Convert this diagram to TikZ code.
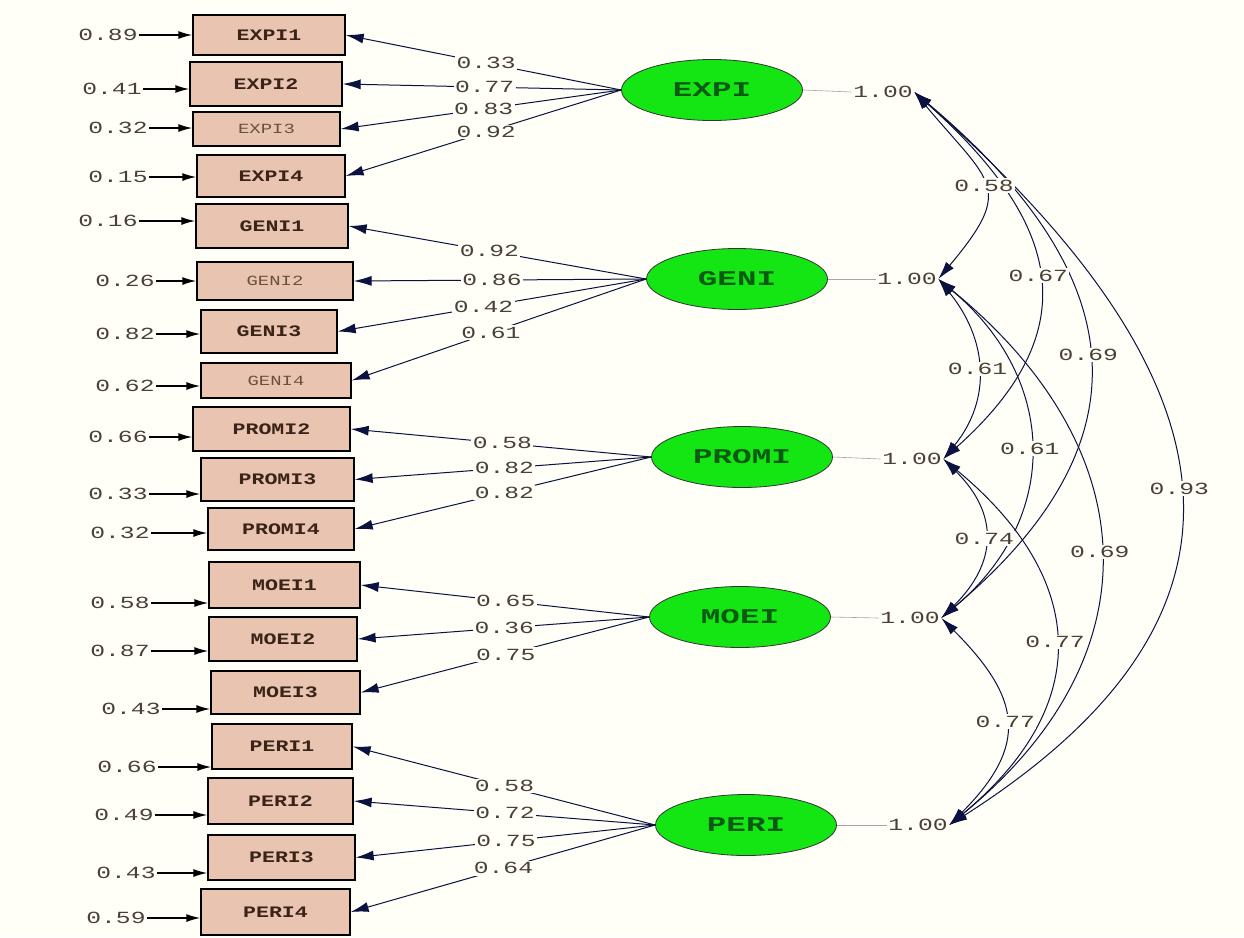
\documentclass[tikz,border=0pt]{standalone}
\usepackage{fontspec}
\usetikzlibrary{arrows.meta,shapes.geometric}
\newfontfamily\labfont[FakeStretch=1.45]{Liberation Mono}
\newfontfamily\boxfont[FakeStretch=1.35]{Liberation Mono}
\newfontfamily\latfont[FakeStretch=1.55]{Liberation Mono}
\definecolor{bg}{HTML}{FFFEF7}
\definecolor{boxfill}{HTML}{E9C4B0}
\definecolor{ellfill}{HTML}{14E614}
\definecolor{navy}{HTML}{0B1240}
\definecolor{labtxt}{HTML}{4A4038}
\definecolor{boxtxt}{HTML}{3A2418}
\definecolor{boxtxtl}{HTML}{6A5040}
\definecolor{lattxt}{HTML}{0A5A14}
\begin{document}
\begin{tikzpicture}[x=1pt,y=-1pt,
  obs/.style={draw=black, line width=1.3pt, fill=boxfill, inner sep=0pt,
    font=\boxfont\bfseries\fontsize{16}{16}\selectfont, text=boxtxt},
  obsl/.style={obs, font=\boxfont\fontsize{14}{14}\selectfont, text=boxtxtl},
  lat/.style={ellipse, draw=black!80, line width=0.8pt, fill=ellfill,
    minimum width=181pt, minimum height=61pt, inner sep=0pt,
    font=\latfont\bfseries\fontsize{21}{21}\selectfont, text=lattxt},
  lab/.style={fill=bg, inner sep=1.5pt, font=\labfont\fontsize{17}{17}\selectfont, text=labtxt},
  load/.style={-{Latex[length=18pt,width=10pt]}, navy, line width=1pt},
  err/.style={-{Latex[length=14pt,width=8pt]}, black, line width=1.5pt},
  cov/.style={{Latex[length=18pt,width=10pt]}-{Latex[length=18pt,width=10pt]}, navy, line width=1pt},
  varl/.style={gray!70, line width=0.6pt}]
\fill[bg] (0,0) rectangle (1244,937);
\useasboundingbox (0,0) rectangle (1244,937);

% observed
\node[obs, minimum width=152pt, minimum height=40pt] (b1) at (269,35) {EXPI1};
\node[obs, minimum width=152pt, minimum height=44pt] (b2) at (266,84) {EXPI2};
\node[obsl, minimum width=147pt, minimum height=34pt] (b3) at (266.5,129) {EXPI3};
\node[obs, minimum width=148pt, minimum height=42pt] (b4) at (271,176) {EXPI4};
\node[obs, minimum width=152pt, minimum height=44pt] (b5) at (272,226) {GENI1};
\node[obsl, minimum width=156pt, minimum height=38pt] (b6) at (275,281) {GENI2};
\node[obs, minimum width=136pt, minimum height=43pt] (b7) at (269,331.5) {GENI3};
\node[obsl, minimum width=150pt, minimum height=35pt] (b8) at (276,380.5) {GENI4};
\node[obs, minimum width=157pt, minimum height=44pt] (b9) at (271.5,429) {PROMI2};
\node[obs, minimum width=153pt, minimum height=43pt] (b10) at (277.5,479.5) {PROMI3};
\node[obs, minimum width=146pt, minimum height=42pt] (b11) at (281,529) {PROMI4};
\node[obs, minimum width=151pt, minimum height=46pt] (b12) at (284.5,585) {MOEI1};
\node[obs, minimum width=148pt, minimum height=44pt] (b13) at (283,639) {MOEI2};
\node[obs, minimum width=149pt, minimum height=43pt] (b14) at (285.5,692.5) {MOEI3};
\node[obs, minimum width=140pt, minimum height=45pt] (b15) at (282,746.5) {PERI1};
\node[obs, minimum width=145pt, minimum height=46pt] (b16) at (280.5,801) {PERI2};
\node[obs, minimum width=147pt, minimum height=45pt] (b17) at (281.5,857.5) {PERI3};
\node[obs, minimum width=149pt, minimum height=46pt] (b18) at (275.5,912) {PERI4};

% latent
\node[lat] (L1) at (712,90) {EXPI};
\node[lat] (L2) at (737,279) {GENI};
\node[lat] (L3) at (742,457) {PROMI};
\node[lat] (L4) at (740,617) {MOEI};
\node[lat] (L5) at (746,825) {PERI};

% error terms
\foreach \n/\v/\x/\y in {1/0.89/108/35, 2/0.41/112/89, 3/0.32/118/128, 4/0.15/118/177,
  5/0.16/108/221, 6/0.26/125/281, 7/0.82/125/334, 8/0.62/125/386, 9/0.66/118/437,
  10/0.33/118/494, 11/0.32/120/533, 12/0.58/120/603, 13/0.87/120/651, 14/0.43/131/709,
  15/0.66/127/767, 16/0.49/124/815, 17/0.43/126/873, 18/0.59/116/918}{
  \node[lab] (e\n) at (\x,\y) {\v};
  \draw[err] (e\n.east) -- (e\n.east -| b\n.west);
}

% loadings
\draw[load] (L1.west) -- (b1.east) node[lab,pos=.49]{0.33};
\draw[load] (L1.west) -- (b2.east) node[lab,pos=.49]{0.77};
\draw[load] (L1.west) -- (b3.east) node[lab,pos=.49]{0.83};
\draw[load] (L1.west) -- (b4.east) node[lab,pos=.49]{0.92};
\draw[load] (L2.west) -- (b5.east) node[lab,pos=.527]{0.92};
\draw[load] (L2.west) -- (b6.east) node[lab,pos=.527]{0.86};
\draw[load] (L2.west) -- (b7.east) node[lab,pos=.527]{0.42};
\draw[load] (L2.west) -- (b8.east) node[lab,pos=.527]{0.61};
\draw[load] (L3.west) -- (b9.east) node[lab,pos=.495]{0.58};
\draw[load] (L3.west) -- (b10.east) node[lab,pos=.495]{0.82};
\draw[load] (L3.west) -- (b11.east) node[lab,pos=.495]{0.82};
\draw[load] (L4.west) -- (b12.east) node[lab,pos=.497]{0.65};
\draw[load] (L4.west) -- (b13.east) node[lab,pos=.497]{0.36};
\draw[load] (L4.west) -- (b14.east) node[lab,pos=.497]{0.75};
\draw[load] (L5.west) -- (b15.east) node[lab,pos=.498]{0.58};
\draw[load] (L5.west) -- (b16.east) node[lab,pos=.498]{0.72};
\draw[load] (L5.west) -- (b17.east) node[lab,pos=.498]{0.75};
\draw[load] (L5.west) -- (b18.east) node[lab,pos=.498]{0.64};

% variances
\node[lab, fill=none] (v1) at (883,92) {1.00};
\node[lab, fill=none] (v2) at (907,279) {1.00};
\node[lab, fill=none] (v3) at (912,459) {1.00};
\node[lab, fill=none] (v4) at (910,618) {1.00};
\node[lab, fill=none] (v5) at (918,825) {1.00};
\foreach \i in {1,...,5}{\draw[varl] (L\i.east) -- (v\i.west);}

% covariances
\draw[cov] (v1.east) .. controls +(330,290) and +(330,-210) .. (v5.east) node[lab,pos=.5]{0.93};
\draw[cov] (v1.east) .. controls +(214,180) and +(214,-180) .. (v4.east) node[lab,pos=.5]{0.69};
\draw[cov] (v1.east) .. controls +(146,130) and +(146,-130) .. (v3.east) node[lab,pos=.5]{0.67};
\draw[cov] (v1.east) .. controls +(77,92) and +(77,-92) .. (v2.east) node[lab,pos=.5]{0.58};
\draw[cov] (v2.east) .. controls +(208,170) and +(208,-170) .. (v5.east) node[lab,pos=.5]{0.69};
\draw[cov] (v2.east) .. controls +(120,100) and +(120,-100) .. (v4.east) node[lab,pos=.5]{0.61};
\draw[cov] (v2.east) .. controls +(49,60) and +(49,-60) .. (v3.east) node[lab,pos=.5]{0.61};
\draw[cov] (v3.east) .. controls +(145,120) and +(145,-120) .. (v5.east) node[lab,pos=.5]{0.77};
\draw[cov] (v3.east) .. controls +(56,55) and +(56,-55) .. (v4.east) node[lab,pos=.5]{0.74};
\draw[cov] (v4.east) .. controls +(80,80) and +(80,-80) .. (v5.east) node[lab,pos=.5]{0.77};
\end{tikzpicture}
\end{document}
